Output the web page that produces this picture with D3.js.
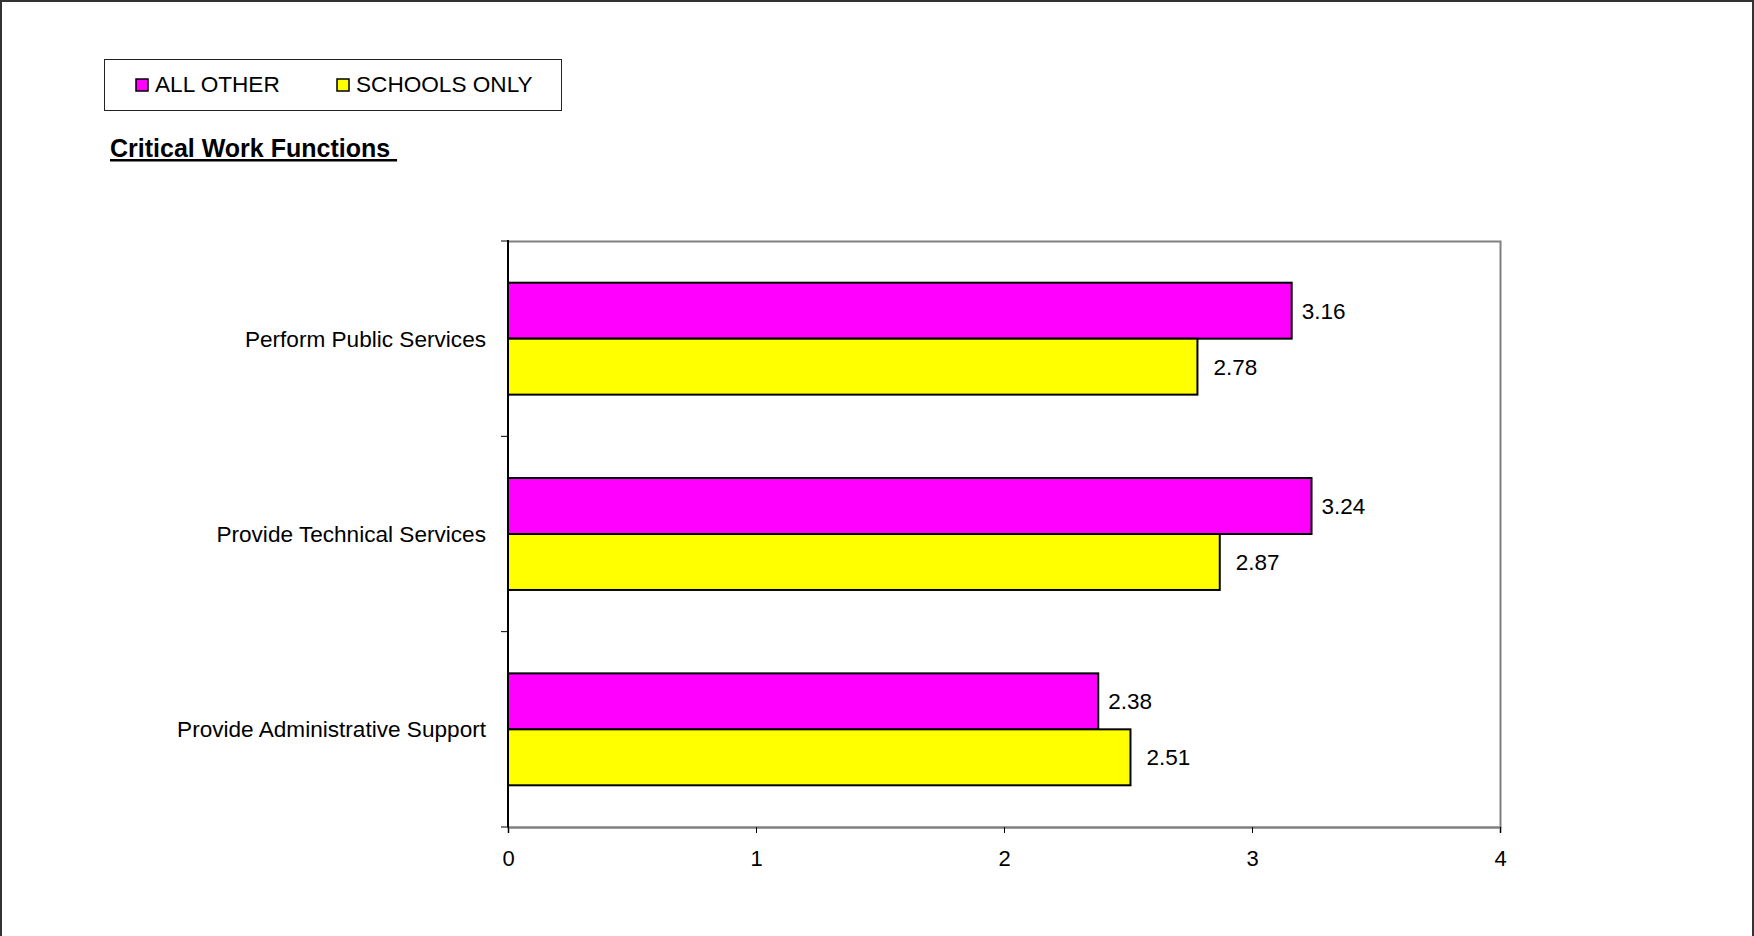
<!DOCTYPE html>
<html>
<head>
<meta charset="utf-8">
<script src="https://cdn.jsdelivr.net/npm/d3@7"></script>
<style>
  body { margin: 0; background: #fff; }
  svg { display: block; font-family: Arial, "Liberation Sans", sans-serif; }
</style>
</head>
<body>
<svg id="chart"></svg>
<script>
// chart data
const categories = ["Perform Public Services", "Provide Technical Services", "Provide Administrative Support"];
const seriesNames = ["ALL OTHER", "SCHOOLS ONLY"];
const allOther = [3.16, 3.24, 2.38];
const schoolsOnly = [2.78, 2.87, 2.51];
const xTicks = [0, 1, 2, 3, 4];

const colours = { "ALL OTHER": "#ff00ff", "SCHOOLS ONLY": "#ffff00" };

const width = 1754;
const height = 936;
const plot = { left: 508, right: 1500, top: 241, bottom: 827 };

const svg = d3.select("#chart")
  .attr("width", width)
  .attr("height", height);

svg.append("rect")
  .attr("width", width).attr("height", height)
  .attr("fill", "#fff");

// outer chart border (bottom edge is off-page)
svg.append("rect")
  .attr("x", 1).attr("y", 1)
  .attr("width", width - 2).attr("height", height + 10)
  .attr("fill", "none")
  .attr("stroke", "#333")
  .attr("stroke-width", 2);

// legend
const legend = svg.append("g");
legend.append("rect")
  .attr("x", 104.5).attr("y", 59.5)
  .attr("width", 457).attr("height", 51)
  .attr("fill", "#fff")
  .attr("stroke", "#222");

const legendX = [136, 337];
seriesNames.forEach((name, i) => {
  legend.append("rect")
    .attr("x", legendX[i]).attr("y", 79)
    .attr("width", 12).attr("height", 12)
    .attr("fill", colours[name])
    .attr("stroke", "#000")
    .attr("stroke-width", 1.5);
  legend.append("text")
    .attr("x", legendX[i] + 19).attr("y", 92)
    .attr("font-size", 22.6)
    .attr("fill", "#000")
    .text(name);
});

// title
svg.append("text")
  .attr("x", 110).attr("y", 157)
  .attr("font-size", 25)
  .attr("font-weight", "bold")
  .attr("text-decoration", "underline")
  .attr("fill", "#000")
  .text("Critical Work Functions\u00a0");

// scales
const x = d3.scaleLinear().domain([0, 4]).range([plot.left, plot.right]);
const y = d3.scaleBand()
  .domain(categories)
  .range([plot.top, plot.bottom])
  .paddingInner(0.427)
  .paddingOuter(0.2135);
const ySub = d3.scaleBand().domain(seriesNames).range([0, y.bandwidth()]);

// plot area border
svg.append("rect")
  .attr("x", plot.left).attr("y", plot.top + 0.5)
  .attr("width", plot.right - plot.left + 0.5)
  .attr("height", plot.bottom - plot.top)
  .attr("fill", "#fff")
  .attr("stroke", "#808080")
  .attr("stroke-width", 2);

// bars
const rows = categories.map((c, i) => ({
  category: c,
  values: [
    { series: "ALL OTHER", value: allOther[i] },
    { series: "SCHOOLS ONLY", value: schoolsOnly[i] }
  ]
}));

const groups = svg.append("g").selectAll("g")
  .data(rows)
  .join("g")
  .attr("transform", d => `translate(0,${y(d.category)})`);

groups.selectAll("rect")
  .data(d => d.values)
  .join("rect")
  .attr("x", x(0))
  .attr("y", d => ySub(d.series))
  .attr("width", d => x(d.value) - x(0))
  .attr("height", ySub.bandwidth())
  .attr("fill", d => colours[d.series])
  .attr("stroke", "#000")
  .attr("stroke-width", 2);

groups.selectAll("text")
  .data(d => d.values)
  .join("text")
  .attr("x", d => x(d.value) + (d.series === "ALL OTHER" ? 10 : 16))
  .attr("y", d => ySub(d.series) + ySub.bandwidth() / 2)
  .attr("dy", "0.36em")
  .attr("font-size", 22.5)
  .attr("fill", "#000")
  .text(d => d3.format(".2f")(d.value));

// x axis
const xAxis = svg.append("g")
  .attr("transform", `translate(0,${plot.bottom})`)
  .call(d3.axisBottom(x).tickValues(xTicks).tickSize(6).tickPadding(17).tickFormat(d3.format("d")));
xAxis.select(".domain").attr("stroke", "#808080").attr("stroke-width", 2);
xAxis.selectAll(".tick line").attr("stroke", "#000");
xAxis.selectAll(".tick text")
  .attr("font-size", 22)
  .attr("font-family", "Arial, 'Liberation Sans', sans-serif")
  .attr("fill", "#000");

// y axis: line and ticks at category boundaries
const yAxis = svg.append("g");
yAxis.append("line")
  .attr("x1", plot.left).attr("x2", plot.left)
  .attr("y1", plot.top - 1).attr("y2", plot.bottom)
  .attr("stroke", "#000")
  .attr("stroke-width", 2);

const boundaries = d3.range(categories.length + 1).map(i => plot.top + i * y.step());
yAxis.selectAll("line.tick")
  .data(boundaries)
  .join("line")
  .attr("class", "tick")
  .attr("x1", plot.left - 7).attr("x2", plot.left)
  .attr("y1", d => d).attr("y2", d => d)
  .attr("stroke", "#000");

yAxis.selectAll("text")
  .data(categories)
  .join("text")
  .attr("x", 486)
  .attr("y", d => y(d) + y.bandwidth() / 2)
  .attr("dy", "0.36em")
  .attr("text-anchor", "end")
  .attr("font-size", 22.6)
  .attr("fill", "#000")
  .text(d => d);
</script>
</body>
</html>
